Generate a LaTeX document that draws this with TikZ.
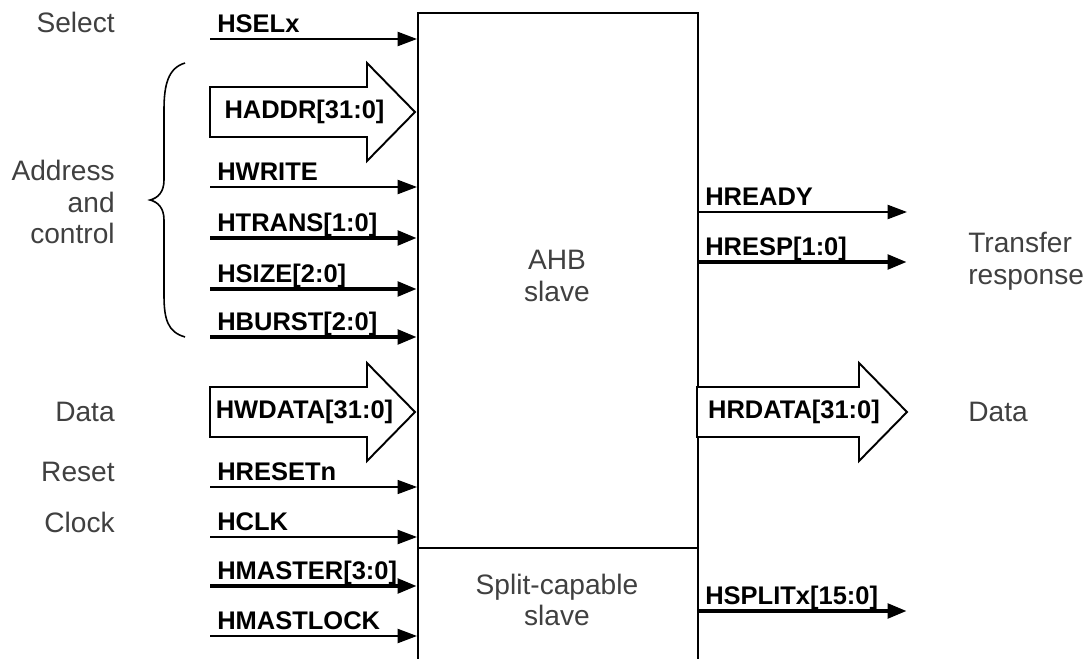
\documentclass[tikz,border=0pt]{standalone}
\usepackage{fontspec}
\setmainfont{Liberation Sans}
\usetikzlibrary{arrows.meta,positioning,calc}
\tikzset{
  sig/.style={-{Triangle[length=11pt,width=8pt]}, line width=1.1pt, draw=black},
  thinsig/.style={sig, line width=0.6pt},
  bus/.style={sig, line width=2.6pt},
  blockarrow/.style={draw=black, line width=1.1pt, fill=white},
  sname/.style={font=\bfseries\fontsize{14.5}{17}\selectfont, inner sep=0pt},
  grp/.style={font=\fontsize{16}{18}\selectfont, text=black!75, inner sep=0pt},
}
\begin{document}
\begin{tikzpicture}[x=0.02cm, y=-0.02cm]
  \useasboundingbox (0,0) rectangle (1090,659);
  % the slave block
  \node[draw, line width=1.1pt, anchor=north west, minimum width=5.6cm, minimum height=13cm,
    inner sep=0pt] (slave) at (417,12) {};
  \coordinate (div) at (417,548);
  \draw[line width=1.1pt] (div) -- (div -| slave.east);
  \node[grp, align=center] (ahb) at (557,276) {AHB\\slave};
  \node[grp, align=center] (split) at (557,600) {Split-capable\\slave};
  % inputs
  \foreach \y/\n/\s [count=\i] in {39/HSELx/sig, 187/HWRITE/sig, 238/{HTRANS[1:0]}/bus,
      289/{HSIZE[2:0]}/bus, 337/{HBURST[2:0]}/bus, 487/HRESETn/thinsig, 537/HCLK/sig,
      586/{HMASTER[3:0]}/bus, 636/HMASTLOCK/sig} {
    \coordinate (in\i) at (210,\y);
    \draw[\s] (in\i) -- (in\i -| slave.west);
    \node[sname, anchor=base west] (lin\i) at (217,\y-7) {\n};
  }
  % outputs
  \foreach \y/\n/\s [count=\i] in {212/HREADY/sig, 262/{HRESP[1:0]}/bus, 611/{HSPLITx[15:0]}/bus} {
    \coordinate (out\i) at (907,\y);
    \draw[\s] (out\i -| slave.east) -- (out\i);
    \node[sname, anchor=base west] (lout\i) at (705,\y-7) {\n};
  }
  % wide buses
  \foreach \xa/\xt/\yc/\t/\nm in {210/415/112/{HADDR[31:0]}/haddr, 210/415/412/{HWDATA[31:0]}/hwdata,
      697/907/412/{HRDATA[31:0]}/hrdata} {
    \draw[blockarrow] (\xa,\yc-25) -- (\xt-48,\yc-25) -- (\xt-48,\yc-49) -- (\xt,\yc)
      -- (\xt-48,\yc+49) -- (\xt-48,\yc+25) -- (\xa,\yc+25) -- cycle;
    \node[sname] (\nm) at ({(\xa+\xt)/2-8},\yc) {\t};
  }
  % group labels
  \foreach \y/\t [count=\i] in {22/Select, 412/Data, 472/Reset, 522/Clock}
    \node[grp, anchor=east] (g\i) at (115,\y) {\t};
  \node[grp, anchor=east, align=right] (addr) at (115,202) {Address\\and\\control};
  \node[grp, anchor=west] (rdata) at (968,412) {Data};
  \node[grp, anchor=west, align=left] (resp) at (968,261) {Transfer\\response};
  \draw[line width=0.9pt] (185,63) .. controls (168,68) and (164,85) .. (164,110) -- (164,180)
    .. controls (164,192) and (158,198) .. (150,200) .. controls (158,202) and (164,208) .. (164,220)
    -- (164,295) .. controls (164,320) and (168,332) .. (185,337);
\end{tikzpicture}
\end{document}
